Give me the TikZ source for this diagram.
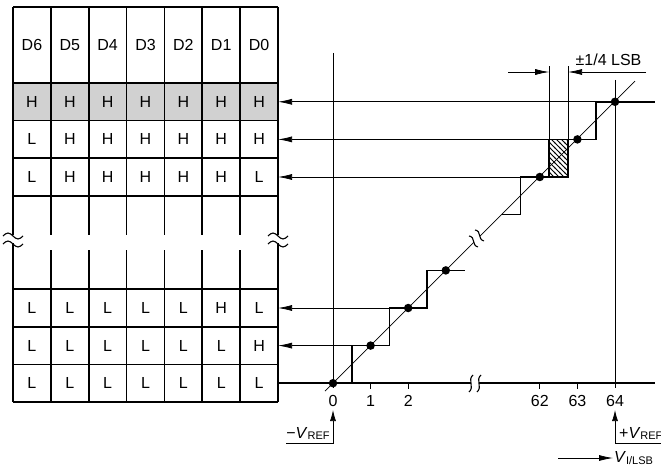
\documentclass[tikz,border=0pt]{standalone}
\usepackage{fontspec}
\setmainfont{Liberation Sans}
\usetikzlibrary{arrows.meta,patterns.meta}
\tikzdeclarepattern{
  name=myhatch,
  type=uncolored,
  bounding box={(-1pt,-1pt) and (6pt,6pt)},
  tile size={(5pt,5pt)},
  code={\pgfsetlinewidth{0.9pt}\pgfpathmoveto{\pgfpoint{-1pt}{6pt}}\pgfpathlineto{\pgfpoint{6pt}{-1pt}}\pgfusepath{stroke}}
}
\begin{document}
\begin{tikzpicture}[x=1pt,y=-1pt,
  tbl/.style={line width=1.7pt},
  thinl/.style={line width=0.75pt},
  stair/.style={line width=1.7pt},
  lft/.style={thinl,-{Latex[length=14pt,width=6pt]}},
  uparr/.style={thinl,-{Latex[length=11pt,width=6pt]}},
  cell/.style={font=\fontsize{16}{16}\selectfont, inner sep=0pt},
  lbl/.style={font=\fontsize{16}{16}\selectfont, inner sep=0pt},
  dot/.style={circle,fill,inner sep=0pt,minimum size=8.5pt},
  brk/.style={line width=1.1pt}
]
\useasboundingbox (0,0) rectangle (661,473);
% ---------- table ----------
\fill[black!18] (13,83) rectangle (278,120.6);
\foreach \y in {7,83,120.6,158.2,195.8,289.2,326.8,364.4,402}
  \draw[tbl] (13,\y) -- (278,\y);
\foreach \i in {1,...,6} {
  \draw[tbl] ({13+37.857*\i},7) -- ({13+37.857*\i},235);
  \draw[tbl] ({13+37.857*\i},250) -- ({13+37.857*\i},402);
}
\foreach \x in {13,278} {
  \draw[tbl] (\x,7) -- (\x,235);
  \draw[tbl] (\x,243) -- (\x,402);
  \draw[brk] ({\x-10},236) sin ({\x-5},233) cos (\x,236) sin ({\x+5},239) cos ({\x+10},236);
  \draw[brk] ({\x-10},244) sin ({\x-5},241) cos (\x,244) sin ({\x+5},247) cos ({\x+10},244);
}
\foreach \lab [count=\i from 0] in {D6,D5,D4,D3,D2,D1,D0}
  \node[cell] (hd\i) at ({31.93+37.857*\i},45) {\lab};
\foreach \row/\y [count=\r] in {{H,H,H,H,H,H,H}/101.8,{L,H,H,H,H,H,H}/139.4,{L,H,H,H,H,H,L}/177,
    {L,L,L,L,L,H,L}/307.9,{L,L,L,L,L,L,H}/345.6,{L,L,L,L,L,L,L}/383.2}
  \foreach \v [count=\i from 0] in \row
    \node[cell] (c\r\i) at ({31.93+37.857*\i},\y) {\v};
% table right-edge coordinates
\coordinate (t1) at (278,101.8);
\coordinate (t2) at (278,139.4);
\coordinate (t3) at (278,177);
\coordinate (t4) at (278,308);
\coordinate (t5) at (278,345.6);
\coordinate (t6) at (278,383.2);
% ---------- graph coordinates ----------
\coordinate (v0top) at (333,53);
\coordinate (v0bot) at (333,388);
\coordinate (v64top) at (615,80);
\coordinate (v64bot) at (615,388);
\coordinate (axR) at (655,383.2);
\coordinate (axBa) at (471,383.2);
\coordinate (axBb) at (479,383.2);
% staircase corners
\coordinate (s0) at (351.8,383.2);
\coordinate (s1) at (351.8,345.6);
\coordinate (s2) at (389.4,345.6);
\coordinate (s3) at (389.4,308);
\coordinate (s4) at (427,308);
\coordinate (s5) at (427,270.4);
\coordinate (s6) at (464.6,270.4);
\coordinate (u0) at (502.2,214.6);
\coordinate (u1) at (520.6,214.6);
\coordinate (u2) at (520.6,177);
\coordinate (hb1) at (549.2,177);
\coordinate (hb2) at (568,139.4);
\coordinate (hb3) at (549.2,139.4);
\coordinate (u3) at (596.2,139.4);
\coordinate (u4) at (596.2,101.8);
\coordinate (u5) at (655,101.8);
% thin verticals
\draw[thinl] (v0top) -- (v0bot);
\draw[thinl] (v64top) -- (v64bot);
% axis
\draw[stair] (t6) -- (axBa);
\draw[stair] (axBb) -- (axR);
\draw[brk] (473,375) .. controls (467,380) and (475,387) .. (469,392);
\draw[brk] (481,375) .. controls (475,380) and (483,387) .. (477,392);
% staircases
\draw[stair] (s0) -- (s1) -- (s2) -- (s3) -- (s4) -- (s5) -- (s6);
\draw[stair] (u0) -- (u1) -- (u2) -- (hb1);
\draw[stair, pattern=myhatch] (hb3) rectangle (568,177);
\draw[stair] (hb2) -- (u3) -- (u4) -- (u5);
% arrows to table
\draw[lft] (u4) -- (t1);
\draw[lft] (hb3) -- (t2);
\draw[lft] (u2) -- (t3);
\draw[lft] (s3) -- (t4);
\draw[lft] (s1) -- (t5);
% diagonal
\coordinate (dA) at (325,391.2);
\coordinate (dB) at (474,242.2);
\coordinate (dC) at (480,236.2);
\coordinate (dD) at (635,81.2);
\draw[thinl] (dA) -- (dB);
\draw[thinl] (dC) -- (dD);
\draw[brk] (469,236) .. controls (476,237) and (471,245) .. (478,247);
\draw[brk] (475,230) .. controls (482,231) and (477,239) .. (484,241);
% dots
\foreach \p/\n in {{333,383.2}/p0,{370.6,345.6}/p1,{408.2,308}/p2,{445.8,270.4}/p3,{539.8,177}/p62,{577.4,139.4}/p63,{615,101.8}/p64}
  \node[dot] (\n) at (\p) {};
% ticks and labels
\foreach \x in {370.6,408.2,539.8,577.4}
  \draw[thinl] (\x,383.2) -- (\x,389);
\foreach \x/\t in {333/0,370.6/1,408.2/2,539.8/62,577.4/63,615/64}
  \node[lbl] (tk\t) at (\x,401) {\t};
% +-1/4 LSB dimension
\coordinate (m1) at (549.2,66);
\coordinate (m2) at (568,66);
\draw[thinl] (hb3) -- (m1);
\draw[thinl] (hb2) -- (m2);
\coordinate (da1) at (508,72);
\coordinate (da2) at (549.2,72);
\coordinate (da3) at (646,72);
\coordinate (da4) at (568,72);
\draw[lft] (da1) -- (da2);
\draw[lft] (da3) -- (da4);
\node[lbl, anchor=base] (pm) at (608.5,66) {±1/4 LSB};
% bottom annotations
\coordinate (mr1) at (286,443);
\coordinate (mr2) at (333,443);
\coordinate (mr3) at (333,410);
\draw[uparr] (mr1) -- (mr2) -- (mr3);
\node[lbl, anchor=base] (mref) at (308,438) {−\textit{V}\raisebox{-1.5pt}{\fontsize{11}{11}\selectfont REF}};
\coordinate (pr1) at (661,443);
\coordinate (pr2) at (615,443);
\coordinate (pr3) at (615,410);
\draw[uparr] (pr1) -- (pr2) -- (pr3);
\node[lbl, anchor=base west] (pref) at (619,438) {+\textit{V}\raisebox{-1.5pt}{\fontsize{11}{11}\selectfont REF}};
\coordinate (vi1) at (558,458);
\coordinate (vi2) at (613,458);
\draw[lft] (vi1) -- (vi2);
\node[lbl, anchor=west] (vi) at (614,458) {\textit{V}\raisebox{-2.5pt}{\fontsize{11}{11}\selectfont I/LSB}};
\end{tikzpicture}
\end{document}
